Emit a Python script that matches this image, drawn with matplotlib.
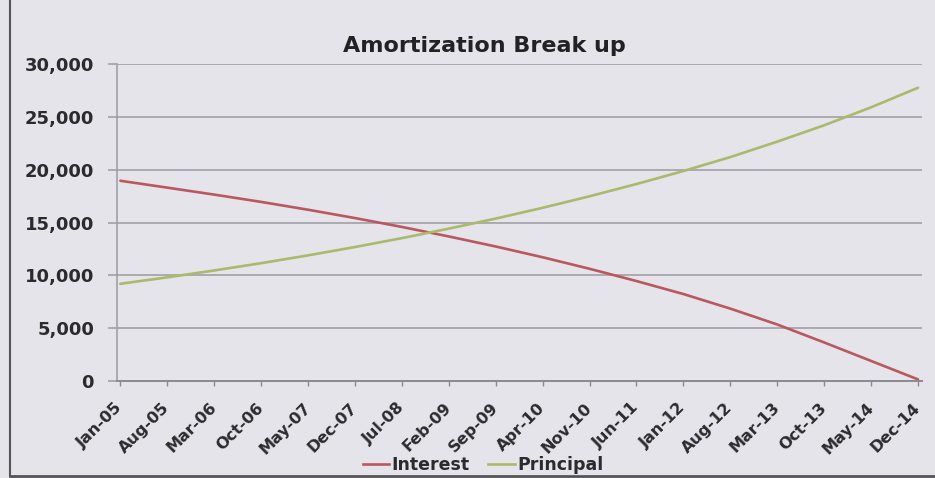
import numpy as np
import pandas as pd
import matplotlib
matplotlib.use("Agg")
import matplotlib.pyplot as plt
from matplotlib.lines import Line2D

# values at each labelled month
labels = ['Jan-05', 'Aug-05', 'Mar-06', 'Oct-06', 'May-07', 'Dec-07',
          'Jul-08', 'Feb-09', 'Sep-09', 'Apr-10', 'Nov-10', 'Jun-11',
          'Jan-12', 'Aug-12', 'Mar-13', 'Oct-13', 'May-14', 'Dec-14']
interest = [18950, 18300, 17640, 16950, 16210, 15420, 14580, 13680, 12730,
            11710, 10620, 9460, 8230, 6850, 5350, 3650, 1900, 150]
principal = [9200, 9810, 10460, 11150, 11890, 12680, 13520, 14420, 15370,
             16390, 17480, 18640, 19870, 21190, 22650, 24200, 25900, 27750]
yticks = [0, 5000, 10000, 15000, 20000, 25000, 30000]

paper = '#e5e4ea'
grid_col = '#a0a0a6'
text_col = '#2b2b2e'
red = '#b9585e'
green = '#a9ba6c'

# month offset from Jan-05 for each label
dates = pd.to_datetime(labels, format='%b-%y')
months = (dates.year - dates.year[0]) * 12 + (dates.month - dates.month[0])

fig = plt.figure(figsize=(9.35, 4.78), dpi=100, facecolor=paper)
ax = fig.add_axes([117/935, 1-381/478, (922-117)/935, (381-64)/478])
ax.set_facecolor(paper)

ax.plot(months, interest, color=red, lw=1.9, solid_capstyle='round')
ax.plot(months, principal, color=green, lw=1.9, solid_capstyle='round')

ax.set_xlim(-0.5, 119.6)
ax.set_ylim(0, 30000)
ax.set_yticks(yticks)
ax.set_yticklabels([f'{v:,}' for v in yticks])
ax.grid(axis='y', color=grid_col, lw=1.2)
ax.set_axisbelow(True)

for s in ['top', 'right']:
    ax.spines[s].set_visible(False)
ax.spines['left'].set_color(grid_col)
ax.spines['bottom'].set_color('#8a8a90')
ax.spines['left'].set_linewidth(1.2)
ax.spines['bottom'].set_linewidth(1.4)

ax.tick_params(axis='y', length=6.5, width=1.2, color=grid_col, pad=10,
               labelsize=13, labelcolor=text_col)
for t in ax.get_yticklabels():
    t.set_fontweight('bold')
    t.set_family('DejaVu Sans')

ax.set_xticks(months)
ax.set_xticklabels(labels, rotation=45, ha='right', va='center',
                   rotation_mode='anchor', fontsize=11.5, fontweight='bold',
                   color=text_col)
ax.tick_params(axis='x', length=3.5, width=1.0, color='#8a8a90', pad=14)

fig.text(484/935, 1-46/478, 'Amortization Break up', ha='center',
         va='center', fontsize=16, fontweight='bold', color='#222225')

handles = [Line2D([], [], color=red, lw=1.9), Line2D([], [], color=green, lw=1.9)]
leg = fig.legend(handles, ['Interest', 'Principal'], loc='center', ncol=2,
                 bbox_to_anchor=(483/935, 1-465/478), frameon=False,
                 prop={'size': 12.5, 'weight': 'bold'}, handlelength=1.5,
                 handletextpad=0.15, columnspacing=1.1)
for t in leg.get_texts():
    t.set_color(text_col)

# frame of the printed chart box
fig.add_artist(Line2D([10/935, 10/935], [1-476/478, 1], color='#555558', lw=1.5))
fig.add_artist(Line2D([10/935, 1], [1-476/478, 1-476/478], color='#555558', lw=2))

fig.savefig('out.png', dpi=100, facecolor=paper)
